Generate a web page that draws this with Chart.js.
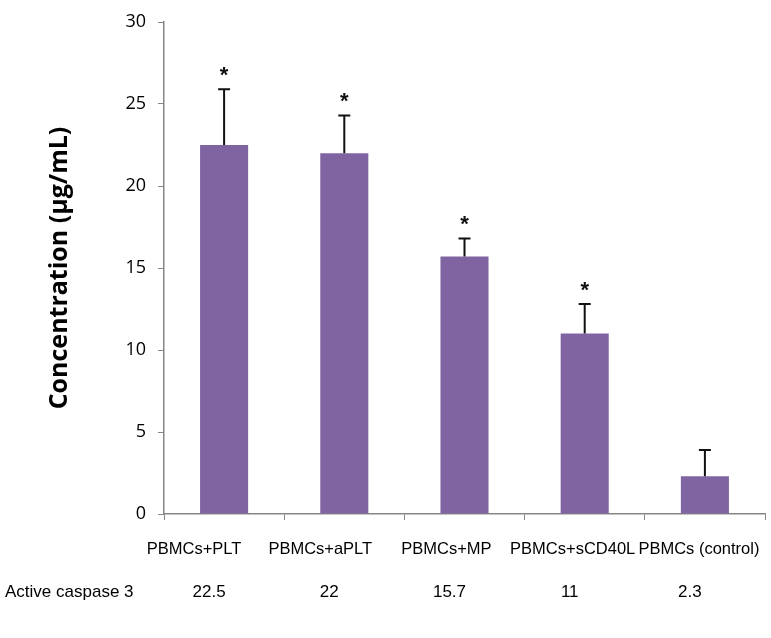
<!DOCTYPE html>
<html>
<head>
<meta charset="utf-8">
<script src="https://cdn.jsdelivr.net/npm/chart.js@4"></script>
<style>
  body { margin: 0; background: #fff; }
  #wrap { width: 771px; height: 638px; }
</style>
</head>
<body>
<div id="wrap"><canvas id="chart" width="771" height="638"></canvas></div>
<script>
// dados do gráfico
const categorias = ['PBMCs+PLT', 'PBMCs+aPLT', 'PBMCs+MP', 'PBMCs+sCD40L', 'PBMCs (control)'];
const valores = [22.5, 22, 15.7, 11, 2.3];
const erros = [3.4, 2.3, 1.1, 1.8, 1.6];
const significativo = [true, true, true, true, false];
const rotuloLinha = 'Active caspase 3';
const tituloY = 'Concentration (\u03bcg/mL)';

const corBarra = '#8064A2';
const corEixo = '#868686';
const fonteTabela = '"Liberation Sans", Arial, sans-serif';

// barras de erro (só a parte de cima) + asteriscos
const errorBarsPlugin = {
    id: 'errorBars',
    afterDatasetsDraw(chart) {
        const ctx = chart.ctx;
        const y = chart.scales.y;
        const meta = chart.getDatasetMeta(0);
        ctx.save();
        ctx.strokeStyle = '#111';
        ctx.lineWidth = 2;
        meta.data.forEach((bar, i) => {
            const yBase = y.getPixelForValue(valores[i]);
            const yTop = y.getPixelForValue(valores[i] + erros[i]);
            ctx.beginPath();
            ctx.moveTo(bar.x, yBase);
            ctx.lineTo(bar.x, yTop);
            ctx.moveTo(bar.x - 6, yTop);
            ctx.lineTo(bar.x + 6, yTop);
            ctx.stroke();
            if (significativo[i]) {
                ctx.fillStyle = '#111';
                ctx.font = 'bold 22px ' + fonteTabela;
                ctx.textAlign = 'center';
                ctx.textBaseline = 'alphabetic';
                ctx.fillText('*', bar.x, yTop - 7);
            }
        });
        ctx.restore();
    }
};

// tabela de dados embaixo do eixo (rótulos + valores), posicionada pela escala x
const dataTablePlugin = {
    id: 'dataTable',
    afterDraw(chart) {
        const ctx = chart.ctx;
        const x = chart.scales.x;
        const larguraCat = x.width / categorias.length;
        ctx.save();
        ctx.fillStyle = '#000';
        ctx.textBaseline = 'middle';
        ctx.textAlign = 'center';

        // no original as colunas da tabela ficam um pouco mais espaçadas que as barras
        ctx.font = '16.5px ' + fonteTabela;
        categorias.forEach((c, i) => {
            const cx = x.getPixelForValue(i) - larguraCat * 0.25 + larguraCat * 0.05 * i;
            ctx.fillText(c, cx, 549);
        });

        ctx.font = '17px ' + fonteTabela;
        valores.forEach((v, i) => {
            ctx.fillText(String(v), x.getPixelForValue(i) - 15, 592);
        });
        ctx.textAlign = 'left';
        ctx.fillText(rotuloLinha, 5, 592);
        ctx.restore();
    }
};

new Chart(document.getElementById('chart').getContext('2d'), {
    type: 'bar',
    data: {
        labels: categorias,
        datasets: [{
            data: valores,
            backgroundColor: corBarra,
            borderWidth: 0,
            barPercentage: 0.4,
            categoryPercentage: 1
        }]
    },
    options: {
        responsive: false,
        animation: false,
        layout: { padding: { left: 0, right: 6, top: 22, bottom: 0 } },
        plugins: {
            legend: { display: false },
            tooltip: { enabled: false }
        },
        scales: {
            x: {
                afterFit(scale) {
                    scale.height = 124;
                    scale.paddingLeft = 0;
                    scale.paddingRight = 0;
                },
                grid: {
                    offset: true,
                    drawOnChartArea: false,
                    color: corEixo,
                    tickLength: 6
                },
                border: { color: corEixo, width: 1.5 },
                ticks: { display: false }
            },
            y: {
                min: 0,
                max: 30,
                afterFit(scale) {
                    scale.width = 164;
                    scale.paddingTop = 0;
                    scale.paddingBottom = 0;
                },
                grid: {
                    drawOnChartArea: false,
                    color: corEixo,
                    tickLength: 6
                },
                border: { color: corEixo, width: 1.5 },
                ticks: {
                    stepSize: 5,
                    color: '#000',
                    padding: 12,
                    font: { family: '"Open Sans", sans-serif', size: 18 }
                },
                title: {
                    display: true,
                    text: tituloY,
                    color: '#000',
                    padding: { top: 45, bottom: 0 },
                    font: { family: '"Open Sans", sans-serif', size: 25, weight: 'bold' }
                }
            }
        }
    },
    plugins: [errorBarsPlugin, dataTablePlugin]
});
</script>
</body>
</html>
